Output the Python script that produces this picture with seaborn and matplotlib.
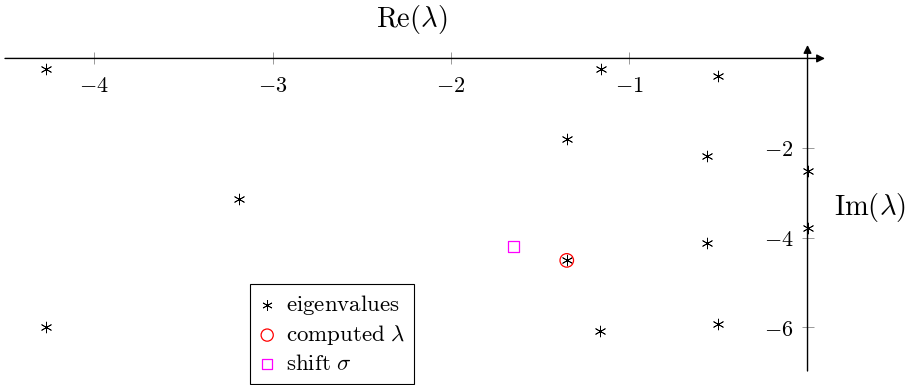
import matplotlib
matplotlib.use("Agg")
import matplotlib.pyplot as plt
import seaborn as sns
import pandas as pd

# ---- data ----
eig_re = [-4.27, -1.16, -0.50, -1.35, -0.565, 0.0, -3.19, 0.0, -0.565, -1.35, -4.27, -1.165, -0.50]
eig_im = [-0.24, -0.24, -0.39, -1.79, -2.18, -2.51, -3.15, -3.78, -4.12, -4.51, -6.00, -6.08, -5.93]
comp_re = [-1.35]
comp_im = [-4.51]
shift_re = [-1.648]
shift_im = [-4.20]
xticks = [-4, -3, -2, -1]
yticks = [-2, -4, -6]
xlabel = r"$\mathrm{Re}(\lambda)$"
ylabel = r"$\mathrm{Im}(\lambda)$"
labels = [r"$\mathrm{eigenvalues}$", r"$\mathrm{computed}\ \lambda$", r"$\mathrm{shift}\ \sigma$"]

sns.set_style("white")
plt.rcParams["mathtext.fontset"] = "cm"
plt.rcParams["font.family"] = ["DejaVu Serif"]
plt.rcParams["text.color"] = "black"
plt.rcParams["axes.labelcolor"] = "black"
plt.rcParams["xtick.color"] = "black"
plt.rcParams["ytick.color"] = "black"

fig = plt.figure(figsize=(9.11, 3.85), dpi=100)
ax = fig.add_axes([5/911, 14/385, 820/911, 326/385])
ax.set_facecolor("none")

df_e = pd.DataFrame({"re": eig_re, "im": eig_im})
df_c = pd.DataFrame({"re": comp_re, "im": comp_im})
df_s = pd.DataFrame({"re": shift_re, "im": shift_im})

sns.scatterplot(data=df_e, x="re", y="im", ax=ax, marker=(6, 2, 0), s=60,
                color="black", linewidth=0.6, label=labels[0], zorder=3)
sns.scatterplot(data=df_c, x="re", y="im", ax=ax, marker="o", s=95,
                facecolor="none", edgecolor="red", linewidth=0.9, label=labels[1], zorder=4)
sns.scatterplot(data=df_s, x="re", y="im", ax=ax, marker="s", s=70,
                facecolor="none", edgecolor="magenta", linewidth=0.9, label=labels[2], zorder=4)

ax.set_xlim(-4.5, 0.098)
ax.set_ylim(-6.98, 0.30)

for side in ["top", "right", "bottom", "left"]:
    ax.spines[side].set_visible(False)

# axis lines with arrows
ax.annotate("", xy=(0.098, 0), xytext=(-4.5, 0),
            arrowprops=dict(arrowstyle="-|>", color="black", lw=1.0,
                            mutation_scale=12, shrinkA=0, shrinkB=0), zorder=2)
ax.annotate("", xy=(0, 0.30), xytext=(0, -6.98),
            arrowprops=dict(arrowstyle="-|>", color="black", lw=1.0,
                            mutation_scale=12, shrinkA=0, shrinkB=0), zorder=2)

# ticks
ax.spines["bottom"].set_position(("data", 0))
ax.spines["left"].set_position(("data", 0))
ax.set_xticks(xticks, labels=[f"${v}$" for v in xticks])
ax.set_yticks(yticks, labels=[f"${v}$" for v in yticks])
ax.tick_params(axis="both", direction="inout", length=8, width=0.7, color="#999999",
               labelsize=16, labelcolor="black", bottom=True, left=True)
ax.tick_params(axis="x", pad=8)
ax.tick_params(axis="y", pad=6)

ax.set_xlabel(xlabel, fontsize=20.5, ha="center", va="center")
ax.set_ylabel(ylabel, fontsize=20.5, rotation=0, ha="center", va="center")
ax.xaxis.set_label_coords(0.496, 1.077)
ax.yaxis.set_label_coords(1.055, 0.5)

leg = ax.legend(loc="lower left", bbox_to_anchor=(250/911, 1/385),
                bbox_transform=fig.transFigure, frameon=True, fancybox=False,
                edgecolor="black", framealpha=1, fontsize=16.5, handletextpad=0.45,
                borderpad=0.4, labelspacing=0.25, handlelength=0.7, markerscale=0.9,
                borderaxespad=0)
leg.get_frame().set_linewidth(0.8)

fig.savefig("out.png", dpi=100)
